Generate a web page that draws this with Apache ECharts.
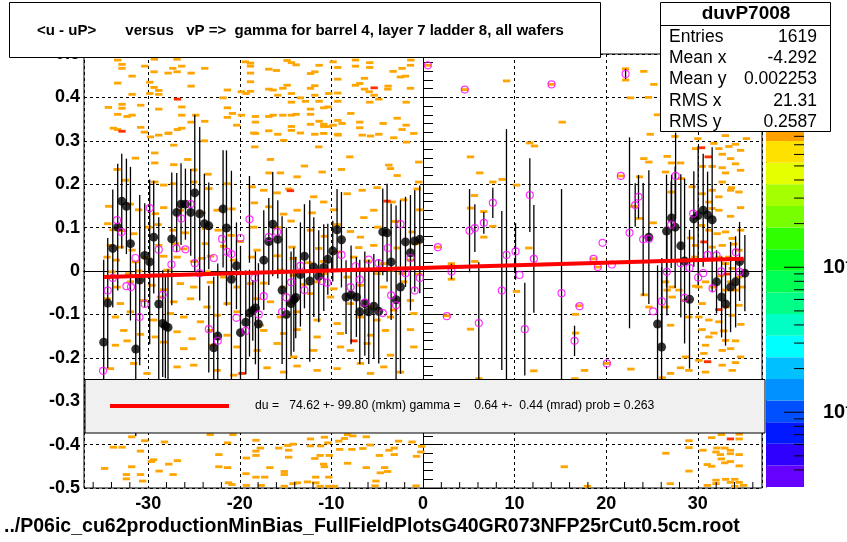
<!DOCTYPE html>
<html><head><meta charset="utf-8">
<script src="https://cdn.jsdelivr.net/npm/echarts@6/dist/echarts.min.js"></script>
<style>html,body{margin:0;padding:0;background:#fff}#c{width:847px;height:542px}</style>
</head><body><div id="c"></div>
<script>
// ---------------- DATA ----------------
const blackX = [-34.85,-34.41,-33.86,-33.32,-32.88,-32.37,-31.93,-31.35,-30.92,-30.37,-29.83,-29.39,-28.84,-28.41,-28.12,-27.83,-27.42,-26.88,-26.41,-25.93,-25.35,-24.91,-24.37,-23.86,-23.38,-22.84,-22.4,-21.82,-21.45,-20.91,-20.36,-19.92,-19.34,-18.94,-18.58,-18.29,-17.96,-17.38,-16.83,-16.4,-15.85,-15.38,-14.9,-14.4,-14.1,-13.89,-13.38,-12.94,-12.36,-11.92,-11.38,-10.83,-10.39,-9.85,-9.38,-8.9,-8.4,-7.85,-7.27,-6.9,-6.35,-5.92,-5.37,-4.83,-4.39,-3.92,-3.48,-2.94,-2.46,-1.91,-1.37,-0.9,-0.35,
  24.65,25.6,26.04,26.58,27.13,27.52,28.14,28.55,29.09,29.56,30.03,30.58,31.06,31.56,32.04,32.59,33.02,33.57,34.12,34.55,35.13];
const blackY = [-0.164,-0.074,0.052,0.101,0.161,0.149,0.063,-0.18,-0.021,0.036,0.021,0.078,-0.076,-0.121,-0.127,-0.13,0.074,0.135,0.154,0.154,0.135,0.18,0.132,0.109,0.104,-0.177,-0.15,0.143,0.099,-0.019,0.012,-0.142,-0.118,-0.097,-0.091,-0.085,-0.122,0.025,0.068,0.108,0.073,-0.044,-0.1,-0.075,-0.066,-0.061,-0.008,0.034,-0.023,0.009,-0.012,0.008,0.027,0.046,0.095,0.072,-0.06,-0.055,-0.06,-0.094,-0.075,-0.094,-0.081,-0.093,0.09,0.088,0.021,-0.066,-0.037,0.067,0.042,0.069,0.073,
  0.078,-0.122,-0.175,0.092,0.122,0.101,0.058,0.023,-0.065,0.12,0.128,0.14,0.129,0.118,-0.025,-0.06,-0.076,-0.037,-0.025,0.022,-0.005];
const blackErr = [0.19,0.15,0.136,0.146,0.109,0.11,0.177,0.2,0.196,0.12,0.19,0.13,0.2,0.123,0.12,0.134,0.153,0.091,0.094,0.082,0.1,0.18,0.2,0.115,0.1,0.164,0.167,0.135,0.179,0.25,0.1,0.2,0.12,0.1,0.07,0.13,0.14,0.115,0.1,0.12,0.09,0.17,0.2,0.12,0.12,0.094,0.12,0.12,0.186,0.115,0.106,0.1,0.082,0.07,0.094,0.11,0.085,0.114,0.092,0.12,0.12,0.12,0.12,0.12,0.1,0.113,0.134,0.217,0.2,0.104,0.133,0.117,0.124,
  0.154,0.135,0.184,0.13,0.1,0.14,0.165,0.19,0.16,0.11,0.16,0.13,0.1,0.167,0.073,0.093,0.096,0.104,0.105,0.091,0.088];

const pinkX = [-34.92,-34.41,-33.86,-33.39,-32.91,-32.37,-31.87,-31.39,-30.95,-30.37,-29.83,-28.84,-28.41,-27.46,-26.91,-26.37,-25.93,-25.38,-24.91,-24.4,-23.38,-22.84,-22.4,-21.93,-21.38,-20.91,-20.36,-19.92,-19.34,-18.94,-18.4,-17.93,-17.38,-16.83,-15.93,-15.38,-14.9,-14.4,-13.38,-12.94,-11.01,-10.47,-8.9,-7.91,-7.37,-6.9,-6.35,-5.92,-4.86,-4.39,-3.84,-3.48,-2.94,-2.46,-1.91,-1.37,-0.9,-0.35,
  0.52,1.62,2.6,3.11,4.56,5.08,5.66,6.09,6.64,7.62,8.6,9.11,10.1,10.53,11.11,11.66,12.1,14.03,15.12,16.54,17.09,18.61,19.08,19.6,20.07,20.61,21.59,22.11,22.54,23.16,23.52,24.03,24.65,25.12,26.07,26.62,27.09,27.57,28.11,28.55,29.09,29.49,30.03,30.58,31.06,31.6,32.04,32.55,34.15,34.55];
const pinkY = [-0.23,-0.045,-0.016,0.117,0.09,-0.035,-0.037,0.03,-0.106,-0.076,0.145,0.049,-0.055,0.015,0.052,0.121,0.05,0.154,0.018,-0.005,-0.134,0.03,-0.161,0.074,0.044,0.039,-0.108,0.076,-0.138,0.119,-0.016,-0.1,-0.058,0.078,0.09,-0.094,-0.061,-0.026,0.012,-0.044,-0.023,-0.027,0.037,-0.037,0.011,-0.02,-0.073,0.026,0.018,-0.097,0.053,-0.056,-0.079,0.108,-0.005,0.03,-0.045,-0.016,
  0.474,0.055,-0.104,-0.001,0.418,0.093,0.099,-0.12,0.111,0.157,-0.045,0.037,0.045,-0.009,-0.134,0.175,0.028,0.43,-0.051,-0.161,-0.081,0.028,0.009,0.065,-0.213,0.015,0.219,0.454,0.088,0.152,0.171,0.073,0.074,-0.093,-0.07,-0.002,0.107,0.219,0.018,-0.062,0.007,0.132,-0.015,-0.005,0.037,-0.04,0.036,-0.001,0.043,-0.002];
const pinkErr = [0,0,0,0,0,0,0,0,0,0,0,0,0,0,0,0,0,0,0,0,0.1,0,0,0,0,0,0,0,0,0.1,0,0,0,0,0,0,0,0,0,0,0,0,0,0,0,0,0,0,0,0,0,0,0,0,0,0,0,0,
  0,0,0,0.018,0,0.096,0.055,0.14,0.025,0.035,0.183,0.29,0.065,0,0.107,0.085,0.124,0,0.24,0.035,0,0,0,0,0,0,0,0.012,0.22,0.05,0.05,0.13,0,0,0.1,0.1,0.1,0.1,0,0,0,0,0,0,0,0,0,0,0,0];

// 2D histogram cells (bin centres)
const cellsTop = [[-33.32,0.486],[-29.32,0.488],[-26.84,0.488],[-19.38,0.482],[-18.83,0.479],[-14.83,0.485],[-14.36,0.48],[-13.85,0.475],[-9.81,0.482],[-7.37,0.486],[-5.81,0.48],[-1.33,0.486],
 [-32.85,0.476],[-30.37,0.472],[-26.33,0.472],[-18.83,0.472],[-11.34,0.474],[-9.3,0.469],[-7.37,0.472],[-5.81,0.469],[-1.37,0.474],
 [-32.85,0.467],[-27.31,0.467],[-23.82,0.467],[-16.83,0.465],[-16.0,0.462],[-3.26,0.46],[-2.28,0.467],
 [-29.35,0.459],[-27.82,0.456],[-26.84,0.459],[-25.31,0.456],[-18.83,0.456],[-12.28,0.455],[-11.81,0.459],[-2.46,0.447],[-1.91,0.449],
 [-31.75,0.449],[-6.39,0.444],[-9.3,0.442],
 [-29.82,0.435],[-33.32,0.433],[-18.83,0.436],[-6.9,0.432],[-7.37,0.428],[-3.81,0.426],
 [-29.35,0.423],[-25.31,0.426],[-14.83,0.428],[-15.3,0.421],[-11.81,0.427],[-12.28,0.421],[-16.83,0.419],[-16.36,0.417],[-6.39,0.419],[-5.88,0.413],[-3.84,0.419],[-1.37,0.421],
 [-28.84,0.416],[-29.82,0.409],[-28.84,0.407],[-21.35,0.417],[-19.82,0.413],[-19.31,0.409],[-18.83,0.414],[-14.36,0.409],[-9.3,0.41],[-15.85,0.405],[-11.81,0.405],[-10.28,0.409],[-5.33,0.405],[-4.82,0.396],
 [-31.75,0.407],[-21.82,0.399],[-13.38,0.399],[-12.83,0.391],[-11.34,0.391],[-9.3,0.391],[-14.36,0.389],[-5.81,0.389],[-1.84,0.389],
 [-34.34,0.377],[-32.85,0.384],[-30.81,0.382],[-32.85,0.375],[-28.84,0.373],[-26.33,0.378],[-21.35,0.376],[-10.83,0.376],[-10.36,0.378],[-12.28,0.373],
 [-33.32,0.361],[-32.3,0.356],[-31.75,0.359],[-26.33,0.359],[-24.8,0.359],[-20.8,0.363],[-21.35,0.354],[-19.82,0.359],[-18.29,0.356],[-16.83,0.356],[-16.36,0.359],[-15.3,0.359],[-14.36,0.359],[-13.85,0.361],[-12.28,0.361],[-7.88,0.363],[-2.82,0.352],
 [-25.31,0.343],[-23.82,0.345],[-18.29,0.343],[-11.34,0.345],[-10.83,0.338],[-9.3,0.347],[-8.83,0.34],[-6.9,0.343],[-4.35,0.34],[-1.84,0.336],
 [-33.79,0.329],[-33.32,0.326],[-30.81,0.331],[-26.8,0.326],[-26.33,0.329],[-20.33,0.336],[-14.36,0.333],[-12.28,0.338],[-10.83,0.333],[-10.36,0.333],[-9.81,0.336],[-6.9,0.33],[-2.28,0.326],
 [-30.41,0.32],[-27.82,0.317],[-28.84,0.313],[-18.29,0.317],[-16.83,0.323],[-15.85,0.315],[-14.36,0.324],[-11.81,0.315],[-10.83,0.317],[-9.3,0.315],[-4.82,0.315]];
const cellsLeft = [[-29.75,0.309],[-27.75,0.318],[-23.86,0.3],[-18.47,0.318],[-18.36,0.286],[-16.65,0.257],[-15.2,0.301],[-13.38,0.318],[-11.38,0.286],[-9.27,0.313],[-7.99,0.263],[-6.64,0.313],[-5.73,0.311],[-3.19,0.307],[-1.8,0.297],[-1.0,0.317],
 [-29.28,0.272],[-27.2,0.29],[-25.68,0.257],[-31.39,0.26],[-33.39,0.234],[-29.28,0.249],[-27.2,0.245],[-25.02,0.233],[-23.46,0.223],[-16.8,0.226],[-15.56,0.226],[-13.74,0.217],[-12.94,0.242],[-11.01,0.228],[-8.9,0.234],[-3.73,0.244],[-3.55,0.236],[-2.82,0.22],
 [-32.48,0.209],[-29.28,0.205],[-28.3,0.198],[-27.2,0.201],[-25.02,0.205],[-23.38,0.19],[-21.38,0.201],[-18.65,0.194],[-17.38,0.186],[-15.92,0.18],[-14.65,0.189],[-11.92,0.171],[-10.83,0.159],[-8.28,0.178],[-6.64,0.186],[-5.01,0.192],[-2.1,0.164],[-0.64,0.189],
 [-34.3,0.149],[-31.94,0.154],[-31.03,0.141],[-29.21,0.132],[-28.3,0.146],[-26.48,0.14],[-24.11,0.134],[-22.47,0.14],[-20.84,0.143],[-18.4,0.157],[-16.83,0.148],[-15.2,0.131],[-13.74,0.14],[-12.1,0.134],[-9.74,0.141],[-6.46,0.123],[-5.37,0.14],[-3.37,0.159],[-0.35,0.141],
 [-34.41,0.109],[-33.83,0.095],[-32.85,0.093],[-31.57,0.086],[-29.93,0.101],[-28.92,0.107],[-27.28,0.094],[-25.93,0.088],[-23.75,0.098],[-22.36,0.094],[-20.95,0.082],[-18.47,0.101],[-15.92,0.1],[-14.4,0.115],[-12.28,0.094],[-10.76,0.08],[-9.37,0.107],[-7.92,0.091],[-6.83,0.078],[-4.93,0.101],[-3.0,0.114],[-1.19,0.09],
 [-34.12,0.059],[-33.03,0.055],[-31.75,0.048],[-28.84,0.059],[-27.02,0.063],[-26.11,0.051],[-23.75,0.063],[-21.75,0.057],[-19.93,0.068],[-18.11,0.048],[-14.29,0.055],[-11.38,0.052],[-9.37,0.044],[-7.01,0.054],[-5.37,0.059],[-2.82,0.053],[-0.82,0.063],
 [-34.48,0.032],[-33.46,0.025],[-31.39,0.021],[-30.3,0.031],[-28.3,0.034],[-26.84,0.032],[-25.02,0.022],[-24.11,0.029],[-23.2,0.034],[-20.65,0.025],[-18.65,0.032],[-15.92,0.035],[-14.18,0.029],[-12.47,0.019],[-10.83,0.022],[-7.55,0.032],[-6.1,0.023],[-4.28,0.017],[-1.37,0.025],
 [-33.94,-0.002],[-32.12,-0.006],[-31.03,0.0],[-27.93,0.002],[-27.2,-0.007],[-23.57,-0.002],[-21.75,-0.014],[-19.56,-0.006],[-15.56,0.002],[-14.18,-0.01],[-10.83,-0.006],[-8.28,-0.014],[-5.01,-0.006],[-3.55,0.002],[-2.28,-0.006],[-0.46,-0.007],
 [-33.39,-0.037],[-31.94,-0.025],[-29.57,-0.033],[-28.3,-0.043],[-26.48,-0.029],[-25.02,-0.037],[-23.2,-0.026],[-20.29,-0.037],[-18.83,-0.029],[-17.38,-0.028],[-15.2,-0.037],[-13.01,-0.031],[-11.56,-0.025],[-9.74,-0.041],[-6.83,-0.033],[-4.28,-0.037],[-2.1,-0.025],
 [-34.48,-0.064],[-33.03,-0.075],[-30.48,-0.068],[-28.66,-0.06],[-27.2,-0.071],[-25.38,-0.064],[-23.57,-0.083],[-21.38,-0.075],[-18.11,-0.064],[-16.65,-0.071],[-14.47,-0.075],[-12.28,-0.052],[-10.1,-0.06],[-7.92,-0.075],[-5.73,-0.083],[-3.19,-0.09],[-1.37,-0.068],
 [-33.57,-0.106],[-31.94,-0.094],[-29.39,-0.113],[-27.57,-0.098],[-26.11,-0.106],[-24.29,-0.117],[-22.47,-0.102],[-20.29,-0.094],[-17.74,-0.125],[-15.56,-0.106],[-13.74,-0.094],[-11.56,-0.113],[-9.37,-0.121],[-6.83,-0.106],[-5.01,-0.113],[-3.55,-0.106],[-1.0,-0.098],
 [-32.66,-0.137],[-30.84,-0.146],[-29.21,-0.152],[-26.84,-0.14],[-25.2,-0.156],[-23.2,-0.137],[-21.38,-0.148],[-17.38,-0.137],[-15.2,-0.144],[-13.74,-0.135],[-11.56,-0.152],[-9.01,-0.144],[-5.73,-0.148],[-4.1,-0.137],[-1.37,-0.135],
 [-33.57,-0.171],[-32.3,-0.161],[-28.3,-0.164],[-26.11,-0.179],[-23.02,-0.171],[-20.29,-0.175],[-18.11,-0.183],[-15.92,-0.167],[-14.1,-0.198],[-11.92,-0.183],[-9.01,-0.175],[-7.92,-0.183],[-6.1,-0.167],[-3.55,-0.194],[-1.0,-0.175],
 [-34.12,-0.225],[-31.57,-0.213],[-30.12,-0.236],[-26.84,-0.221],[-25.02,-0.217],[-22.47,-0.229],[-20.65,-0.24],[-17.02,-0.223],[-15.2,-0.233],[-13.74,-0.219],[-11.56,-0.229],[-9.37,-0.225],[-6.83,-0.213],[-5.73,-0.236],[-4.28,-0.221],[-2.46,-0.233]];
const cellsMid = [[-0.46,0.251],[-0.46,0.205],[5.18,0.263],[6.2,0.226],[7.62,0.205],[8.64,0.211],[5.62,0.174],[5.18,0.145],[6.64,0.137],[6.64,0.078],[7.62,0.103],[10.2,0.198],[11.66,0.295],[12.17,0.288],[11.55,0.053],[5.65,0.022],[3.1,0.017],[3.1,-0.019],[1.62,0.055],[10.2,-0.047],[5.18,-0.134],[2.6,-0.103],[16.65,-0.1],[16.65,-0.143],[17.63,-0.229],[12.1,-0.23],[6.09,-0.248],[16.57,-0.248],[20.1,-0.213],[22.69,-0.226],[17.01,-0.08],[19.08,0.009],[18.61,0.028],[21.59,0.219],[23.63,0.217],[23.63,0.121],[23.01,0.149],[24.1,0.259],[24.65,0.251],[25.12,0.111],[24.14,-0.055],[24.65,-0.083],
 [9.12,0.438],[15.19,0.343],[22.65,0.399],[0.52,0.474],[4.56,0.418],[14.03,0.43],[22.11,0.466],[22.11,0.44],[24.1,0.46],[25.2,0.43],[24.6,0.4],[25.6,0.36],[24.8,0.315]];
const cellsRight = [[26.65,0.264],[27.12,0.249],[28.11,0.249],[29.75,0.282],[31.75,0.294],[32.29,0.282],[33.38,0.287],[34.11,0.292],[34.66,0.278],[32.66,0.269],[33.57,0.259],[34.11,0.247],[34.66,0.232],[30.47,0.241],[31.56,0.241],[32.66,0.238],[33.02,0.226],[28.18,0.213],[27.09,0.182],[26.47,0.228],[29.38,0.194],[30.47,0.178],[31.56,0.186],[32.29,0.171],[33.57,0.186],[34.48,0.182],[33.67,0.192],[32.66,0.205],[31.2,0.159],[32.29,0.14],[33.57,0.126],[34.66,0.146],[31.56,0.144],[30.4,0.105],[31.2,0.094],[32.11,0.086],[33.02,0.09],[33.75,0.075],[34.66,0.094],[31.56,0.055],[32.66,0.059],[33.93,0.062],[34.48,0.048],[29.2,0.076],[29.75,0.059],[29.67,0.032],[32.29,0.032],[33.38,0.032],[33.02,0.017],[33.75,0.006],[34.48,-0.014],[32.47,-0.011],[33.57,-0.025],[30.84,-0.025],[30.11,-0.037],[31.75,-0.037],[33.02,-0.044],[34.11,-0.044],[34.84,-0.037],[26.47,-0.025],[27.2,-0.037],[26.65,-0.044],[27.93,-0.044],[29.75,-0.035],[27.2,-0.06],[28.65,-0.068],[30.47,-0.075],[33.2,-0.083],[34.48,-0.079],[26.47,-0.083],[30.11,-0.106],[31.2,-0.113],[32.29,-0.117],[33.75,-0.102],[34.69,-0.123],[29.02,-0.106],[27.02,-0.125],[30.47,-0.135],[31.75,-0.143],[32.84,-0.138],[34.11,-0.161],[33.02,-0.16],[31.2,-0.152],[30.84,-0.171],[32.66,-0.183],[33.57,-0.179],[34.66,-0.198],[30.66,-0.19],[28.65,-0.198],[30.11,-0.206],[32.66,-0.217],[33.75,-0.229],[34.11,-0.211],[28.11,-0.223],[29.02,-0.229],[30.84,-0.233],[26.11,-0.246],[27.02,-0.236],
 [27.5,0.31],[30.0,0.305],[33.0,0.312],[35.3,0.305],[29.45,0.323],[31.1,0.323]];
const cellsBottom = [[-31.79,-0.382],[-30.37,-0.391],[-28.22,-0.394],[-23.23,-0.377],[-20.75,-0.377],[-21.32,-0.396],[-18.23,-0.39],[-12.28,-0.387],[-10.76,-0.383],[-8.57,-0.386],[-7.66,-0.38],[-8.23,-0.377],[-6.19,-0.382],[-9.19,-0.392],[-2.67,-0.392],[-1.19,-0.394],[-33.79,-0.406],[-32.84,-0.406],[-30.84,-0.415],[-29.65,-0.439],[-29.41,-0.435],[-26.8,-0.437],[-27.75,-0.445],[-31.79,-0.451],[-34.75,-0.455],[-28.8,-0.461],[-27.27,-0.469],[-32.37,-0.469],[-30.84,-0.469],[-32.37,-0.479],[-30.6,-0.484],[-22.28,-0.423],[-22.28,-0.451],[-21.32,-0.453],[-20.85,-0.492],[-21.23,-0.488],[-19.28,-0.431],[-18.23,-0.415],[-17.75,-0.408],[-15.75,-0.408],[-14.76,-0.402],[-14.18,-0.399],[-12.28,-0.403],[-11.18,-0.403],[-10.38,-0.396],[-9.09,-0.411],[-7.76,-0.411],[-6.57,-0.409],[-5.76,-0.401],[-14.66,-0.413],[-18.23,-0.425],[-14.66,-0.429],[-11.23,-0.425],[-10.23,-0.425],[-11.81,-0.432],[-10.85,-0.445],[-10.76,-0.451],[-16.71,-0.453],[-15.14,-0.462],[-15.14,-0.469],[-19.32,-0.467],[-18.23,-0.475],[-17.28,-0.475],[-11.71,-0.475],[-10.28,-0.475],[-8.23,-0.443],[-6.19,-0.453],[-4.19,-0.453],[-3.86,-0.462],[-4.66,-0.465],[-4.76,-0.425],[-3.14,-0.423],[-3.71,-0.413],[-3.14,-0.408],[-0.14,-0.404],[-0.24,-0.417],[-0.71,-0.427],[-5.14,-0.484],[-5.24,-0.495],[-19.28,-0.494],[-17.66,-0.494],[-15.14,-0.496],[-14.18,-0.49],[-13.71,-0.488],[-12.61,-0.486],[-11.71,-0.488],[-11.23,-0.496],[-10.28,-0.496],[-9.66,-0.496],[-0.76,-0.495],[15.42,-0.451],[17.94,-0.496],[26.51,-0.42],[26.99,-0.49],[29.03,-0.391],[29.03,-0.407],[29.03,-0.461],[30.56,-0.413],[31.51,-0.384],[32.56,-0.377],[34.51,-0.376],[34.51,-0.387],[32.08,-0.408],[32.94,-0.408],[33.55,-0.413],[34.51,-0.423],[31.98,-0.417],[32.46,-0.423],[33.55,-0.421],[32.56,-0.433],[32.94,-0.442],[33.55,-0.439],[31.03,-0.446],[31.51,-0.45],[34.51,-0.449],[31.98,-0.482],[31.98,-0.49],[33.03,-0.48],[33.55,-0.487],[34.03,-0.48],[34.51,-0.487],[31.03,-0.494],[34.03,-0.496],[34.98,-0.494]];
const cellsRed = [[-26.8,0.396],[-5.33,0.422],[-32.85,0.322],[-14.47,0.185],[-3.92,0.161],[-7.55,-0.161],[-19.75,-0.236],[30.4,0.284],[31.13,0.263],[30.66,0.067],[33.2,-0.007],[32.29,-0.089],[31.06,-0.209],[33.55,-0.387]];

const fitLine = [[-34.8,-0.0138],[35.0,0.0285]];
const xMinorTicks = [-36,-34,-32,-28,-26,-24,-22,-18,-16,-14,-12,-8,-6,-4,-2,2,4,6,8,12,14,16,18,22,24,26,28,32,34,36];
const paletteBands = [0,1,2,3,4,5,6,7,8,9,10,11,12,13,14,15,16];
const paletteTicks = [0.004,0.005,0.006,0.007,0.008,0.009,0.01,0.02,0.03,0.04,0.05,0.06,0.07,0.08,0.09,0.1,0.2,0.3,0.4,0.5,0.6,0.7,0.8];
const paletteMajor = [0.01,0.1];
const statsTitle = 'duvP7008';
const statsLabels = ['Entries','Mean x','Mean y','RMS x','RMS y'];
const statsValues = ['1619','-4.292','0.002253','21.31','0.2587'];
const titleText = '<u - uP>       versus   vP =>  gamma for barrel 4, layer 7 ladder 8, all wafers';
const legendText = 'du =   74.62 +- 99.80 (mkm) gamma =    0.64 +-  0.44 (mrad) prob = 0.263';
const fileText = '../P06ic_cu62productionMinBias_FullFieldPlotsG40GR073NFP25rCut0.5cm.root';

// ---------------- STYLE ----------------
const PALETTE = ['#6600ff','#3000ff','#0019ff','#0050ff','#0090ff','#00c0ff','#00ffff','#00ffc4','#00ff88','#00ff55','#00ff1a','#30ff00','#77ff00','#a5ff00','#e5ff00','#ffe100','#ffa000'];
const BAND_MAX = 16.42;
const CELL_W = 0.8, CELL_H = 0.0065;
const FONT = '"Liberation Sans", Arial, Helvetica, sans-serif';

const chart = echarts.init(document.getElementById('c'), null, {renderer: 'canvas'});

function cellRender(color) {
  return function (params, api) {
    const x = api.value(0), y = api.value(1);
    const a = api.coord([x - CELL_W / 2, y + CELL_H / 2]);
    const b = api.coord([x + CELL_W / 2, y - CELL_H / 2]);
    return {type: 'rect', shape: {x: a[0], y: a[1], width: b[0] - a[0], height: b[1] - a[1]}, style: {fill: color}};
  };
}
function errRender(params, api) {
  const x = api.value(0), y = api.value(1), e = api.value(2);
  if (!e) return null;
  const hi = Math.min(0.5, y + e), lo = Math.max(-0.5, y - e);
  const a = api.coord([x, hi]), b = api.coord([x, lo]);
  return {type: 'line', shape: {x1: a[0], y1: a[1], x2: b[0], y2: b[1]}, style: {stroke: '#000', lineWidth: 1.3}};
}
const zip3 = (xs, ys, es) => xs.map((v, i) => [v, ys[i], es[i]]);
const zip2 = (xs, ys) => xs.map((v, i) => [v, ys[i]]);

const option = {
  animation: false,
  backgroundColor: '#fff',
  grid: [
    {left: 84, top: 54, width: 678, height: 434, show: true, borderColor: '#000', borderWidth: 1, backgroundColor: 'transparent', containLabel: false, outerBoundsMode: 'none'},
    {left: 766, top: 132, width: 38, height: 355, show: false, containLabel: false, outerBoundsMode: 'none'}
  ],
  xAxis: [
    {gridIndex: 0, type: 'value', min: -37, max: 37, minInterval: 10, maxInterval: 10,
     axisLine: {lineStyle: {color: '#000', width: 1}},
     axisTick: {inside: true, length: 12, lineStyle: {color: '#000'}},
     axisLabel: {color: '#000', fontFamily: FONT, fontWeight: 'bold', fontSize: 18, margin: 7, showMinLabel: false, showMaxLabel: false},
     splitLine: {show: true, lineStyle: {color: '#000', type: [3, 3], width: 1}}},
    {gridIndex: 1, type: 'value', min: 0, max: 1, show: false}
  ],
  yAxis: [
    {gridIndex: 0, type: 'value', min: -0.5, max: 0.5, interval: 0.1,
     axisLine: {lineStyle: {color: '#000', width: 1}},
     axisTick: {inside: true, length: 20, lineStyle: {color: '#000'}},
     minorTick: {show: true, splitNumber: 5, length: 10, lineStyle: {color: '#000'}},
     axisLabel: {color: '#000', fontFamily: FONT, fontWeight: 'bold', fontSize: 18, margin: 4,
       formatter: v => (Math.abs(v) < 1e-9 ? '0' : (Math.round(v * 10) / 10).toString())},
     splitLine: {show: true, lineStyle: {color: '#000', type: [3, 3], width: 1}}},
    {gridIndex: 1, type: 'log', min: 0.00305, max: 0.857, position: 'right',
     axisLine: {show: true, lineStyle: {color: '#000'}},
     axisTick: {show: false},
     axisLabel: {show: true, margin: 19, showMinLabel: false, showMaxLabel: false,
       formatter: v => '{b|10}{s|' + Math.round(Math.log10(v)) + '}',
       rich: {b: {fontFamily: FONT, fontWeight: 'bold', fontSize: 20, color: '#000'},
              s: {fontFamily: FONT, fontWeight: 'bold', fontSize: 13, color: '#000', verticalAlign: 'top', padding: [0, 0, 10, 0]}}},
     splitLine: {show: false}},
    {gridIndex: 1, type: 'value', min: 0, max: BAND_MAX, show: false}
  ],
  series: [
    {type: 'custom', xAxisIndex: 0, yAxisIndex: 0, clip: true, z: 2, silent: true,
     data: cellsTop.concat(cellsLeft, cellsMid, cellsRight, cellsBottom), renderItem: cellRender('#ffa500')},
    {type: 'custom', xAxisIndex: 0, yAxisIndex: 0, clip: true, z: 2, silent: true,
     data: cellsRed, renderItem: cellRender('#ff3000')},
    {type: 'custom', xAxisIndex: 0, yAxisIndex: 0, clip: true, z: 3, silent: true,
     data: zip3(blackX, blackY, blackErr), renderItem: errRender},
    {type: 'custom', xAxisIndex: 0, yAxisIndex: 0, clip: true, z: 3, silent: true,
     data: zip3(pinkX, pinkY, pinkErr), renderItem: errRender},
    {type: 'scatter', xAxisIndex: 0, yAxisIndex: 0, z: 4, silent: true, symbol: 'circle', symbolSize: 9,
     itemStyle: {color: '#000'}, data: zip2(blackX, blackY)},
    {type: 'scatter', xAxisIndex: 0, yAxisIndex: 0, z: 4, silent: true, symbol: 'circle', symbolSize: 7,
     itemStyle: {color: 'rgba(0,0,0,0)', borderColor: '#ff00ff', borderWidth: 1.2}, data: zip2(pinkX, pinkY)},
    {type: 'line', xAxisIndex: 0, yAxisIndex: 0, z: 5, silent: true, showSymbol: false, symbol: 'none',
     lineStyle: {color: '#ff0000', width: 4}, data: fitLine},
    {type: 'custom', xAxisIndex: 0, yAxisIndex: 0, z: 3, silent: true, data: xMinorTicks.map(v => [v]),
     renderItem: (p, api) => { const c = api.coord([api.value(0), -0.5]);
       return {type: 'line', shape: {x1: c[0], y1: c[1], x2: c[0], y2: c[1] - 6}, style: {stroke: '#000', lineWidth: 1}}; }},
    {type: 'custom', xAxisIndex: 1, yAxisIndex: 2, z: 2, silent: true, data: paletteBands.map(v => [v]),
     renderItem: (p, api) => { const i = api.value(0);
       const a = api.coord([0, i]), b = api.coord([1, Math.min(i + 1, BAND_MAX)]);
       return {type: 'rect', shape: {x: a[0], y: b[1], width: b[0] - a[0], height: a[1] - b[1]}, style: {fill: PALETTE[i]}}; }},
    {type: 'custom', xAxisIndex: 1, yAxisIndex: 1, z: 3, silent: true, data: paletteTicks.map(v => [1, v]),
     renderItem: (p, api) => { const v = api.value(1); const c = api.coord([1, v]);
       const len = paletteMajor.indexOf(v) >= 0 ? 20 : 10;
       return {type: 'line', shape: {x1: c[0], y1: c[1], x2: c[0] - len, y2: c[1]}, style: {stroke: '#000', lineWidth: 1}}; }}
  ],
  graphic: [
    {type: 'rect', z: 100, shape: {x: 9.5, y: 2.5, width: 591, height: 55}, style: {fill: '#fff', stroke: '#000', lineWidth: 1}},
    {type: 'text', z: 101, style: {text: titleText, x: 37, y: 31, font: 'bold 15px ' + FONT, fill: '#000', verticalAlign: 'middle', textVerticalAlign: 'middle'}},
    {type: 'rect', z: 100, shape: {x: 660.5, y: 2.5, width: 170, height: 129}, style: {fill: '#fff', stroke: '#000', lineWidth: 1}},
    {type: 'line', z: 101, shape: {x1: 660.5, y1: 25.5, x2: 830.5, y2: 25.5}, style: {stroke: '#000', lineWidth: 1}},
    {type: 'text', z: 101, style: {text: statsTitle, x: 746, y: 14, font: 'bold 19px ' + FONT, fill: '#000', align: 'center', textAlign: 'center', verticalAlign: 'middle', textVerticalAlign: 'middle'}},
  ].concat(
    statsLabels.map((t, i) => ({type: 'text', z: 101, style: {text: t, x: 669, y: 37 + i * 21.3, font: '17.5px ' + FONT, fill: '#000', verticalAlign: 'middle', textVerticalAlign: 'middle'}})),
    statsValues.map((t, i) => ({type: 'text', z: 101, style: {text: t, x: 817, y: 37 + i * 21.3, font: '17.5px ' + FONT, fill: '#000', align: 'right', textAlign: 'right', verticalAlign: 'middle', textVerticalAlign: 'middle'}})),
    [
      {type: 'rect', z: 100, shape: {x: 85, y: 379.5, width: 680, height: 53.5}, style: {fill: '#f0f0f0', stroke: '#000', lineWidth: 1}},
      {type: 'line', z: 101, shape: {x1: 110, y1: 406, x2: 229, y2: 406}, style: {stroke: '#ff0000', lineWidth: 4}},
      {type: 'text', z: 101, style: {text: legendText, x: 255, y: 406, font: '12.2px ' + FONT, fill: '#000', verticalAlign: 'middle', textVerticalAlign: 'middle'}},
      {type: 'text', z: 101, style: {text: fileText, x: 4, y: 527, font: 'bold 19.5px ' + FONT, fill: '#000', verticalAlign: 'middle', textVerticalAlign: 'middle'}}
    ])
};
chart.setOption(option);
</script>
</body></html>
